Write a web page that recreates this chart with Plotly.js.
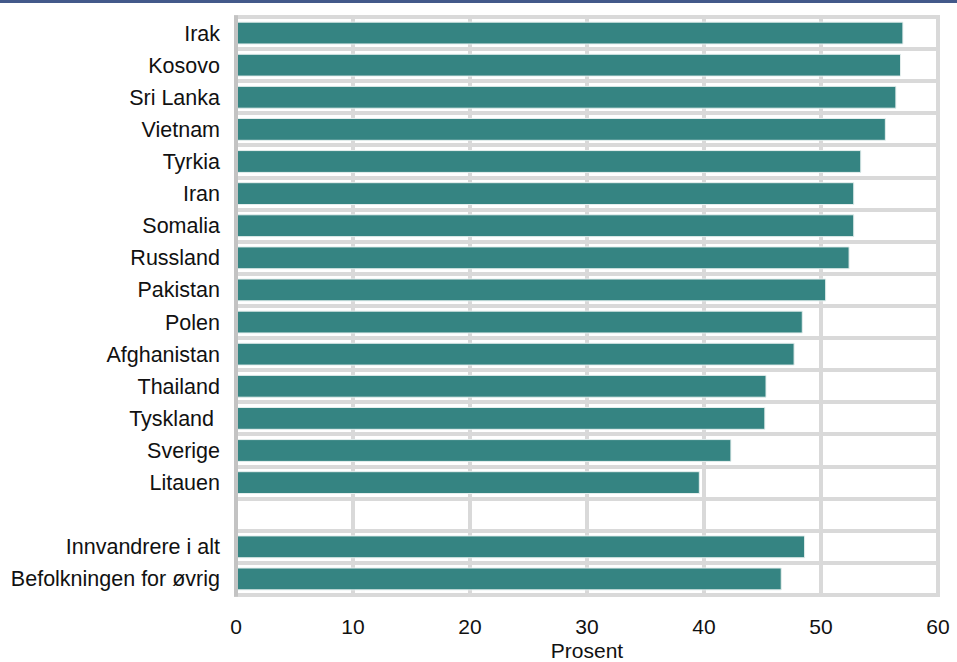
<!DOCTYPE html>
<html>
<head>
<meta charset="utf-8">
<script src="https://cdn.plot.ly/plotly-3.0.1.min.js"></script>
<style>
html,body{margin:0;padding:0;background:#fff;}
#topline{position:absolute;left:0;top:0;width:957px;height:3px;background:#43598a;z-index:10;}
#chart{position:absolute;left:0;top:0;width:957px;height:662px;}
</style>
</head>
<body>
<div id="chart"></div>
<div id="topline"></div>
<script>
const categories = ["Irak","Kosovo","Sri Lanka","Vietnam","Tyrkia","Iran","Somalia","Russland","Pakistan","Polen","Afghanistan","Thailand","Tyskland ","Sverige","Litauen"," ","Innvandrere i alt","Befolkningen for øvrig"];
const values = [57.0,56.8,56.4,55.5,53.4,52.8,52.8,52.4,50.4,48.4,47.7,45.3,45.2,42.3,39.6,null,48.6,46.6];
const xTicks = [0,10,20,30,40,50,60];

const trace = {
  type: 'bar',
  orientation: 'h',
  y: categories,
  x: values,
  marker: {color: '#358482', line: {color: '#e6efee', width: 1}},
  width: 0.68,
  hoverinfo: 'x+y'
};

const layout = {
  width: 957, height: 662,
  margin: {l: 236, r: 19, t: 17, b: 67},
  paper_bgcolor: '#fff', plot_bgcolor: '#fff',
  font: {family: 'Liberation Sans, Arial, sans-serif', size: 21.5, color: '#111'},
  showlegend: false,
  bargap: 0.32,
  xaxis: {
    range: [0, 60],
    tickvals: xTicks,
    ticktext: xTicks.map(String),
    showgrid: true, gridcolor: '#d9d9d9', gridwidth: 4,
    zeroline: false,
    showline: false,
    ticks: 'outside', ticklen: 13, tickcolor: 'rgba(0,0,0,0)',
    tickfont: {size: 21, color: '#111'},
    title: {text: 'Prosent', font: {size: 21, color: '#111'}, standoff: 10}
  },
  yaxis: {
    type: 'category',
    categoryorder: 'array',
    categoryarray: categories,
    autorange: 'reversed',
    tickson: 'boundaries',
    showgrid: true, gridcolor: '#d9d9d9', gridwidth: 4,
    showline: false,
    ticks: '',
    ticklabelstandoff: 15,
    tickfont: {size: 21.5, color: '#111'}
  },
  shapes: [
    {type: 'rect', xref: 'paper', yref: 'paper', x0: 0, x1: 1, y0: 0, y1: 1,
     line: {color: '#d9d9d9', width: 4}, layer: 'above'},
    {type: 'line', xref: 'paper', yref: 'paper', x0: 0, x1: 0, y0: -0.003, y1: 1.003,
     line: {color: '#c3c3c3', width: 4}, layer: 'above'}
  ]
};

Plotly.newPlot('chart', [trace], layout, {displayModeBar: false, staticPlot: true});
</script>
</body>
</html>
